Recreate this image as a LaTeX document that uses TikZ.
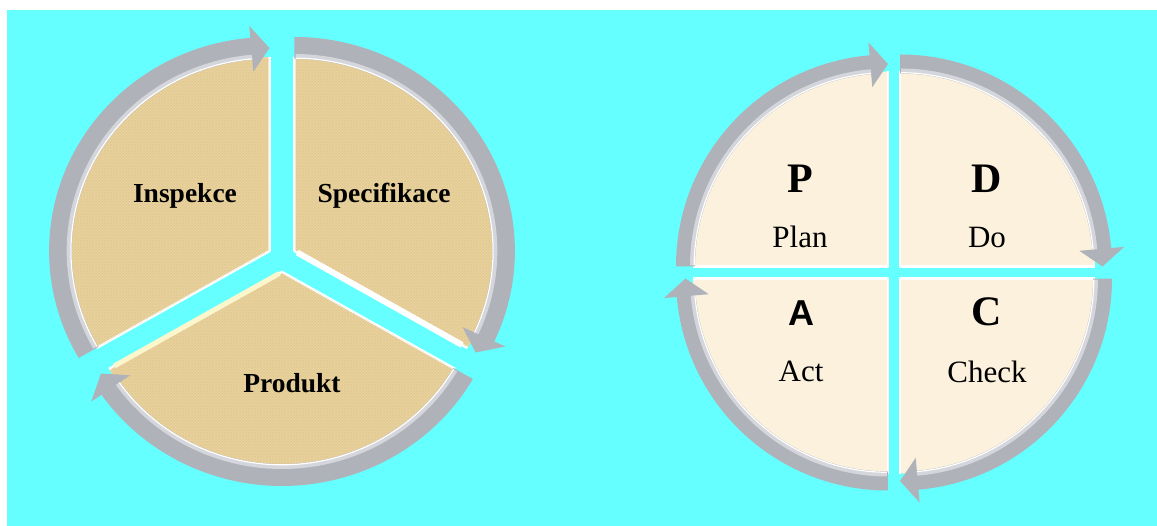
\documentclass[tikz,border=0pt]{standalone}
\usepackage{fontspec}
\setmainfont{Liberation Serif}
\newfontfamily\sansA{Liberation Sans}
\usetikzlibrary{patterns,calc}
\definecolor{bgcyan}{RGB}{102,255,255}
\definecolor{tanfill}{RGB}{234,211,158}
\definecolor{tanline}{RGB}{205,178,120}
\definecolor{tanhigh}{RGB}{252,246,205}
\definecolor{creamfill}{RGB}{251,241,220}
\definecolor{ringgray}{RGB}{176,178,186}
\definecolor{ringlight}{RGB}{212,214,220}

% #1 tail angle, #2 tip angle, #3 inner r, #4 outer r, #5 flare, #6 head angle
\newcommand{\ringarrow}[6]{%
  \fill[ringgray] ({#1}:{#4}) arc[start angle={#1}, end angle={#2+#6}, radius={#4}]
    -- ({#2+#6}:{#4+#5}) -- ({#2}:{(#3+#4)/2}) -- ({#2+#6}:{#3-#5}) -- ({#2+#6}:{#3})
    arc[start angle={#2+#6}, end angle={#1}, radius={#3}] -- cycle;
  \draw[ringlight, line width=4] ({#1-0.3}:{#3+3}) arc[start angle={#1-0.3}, end angle={#2+#6}, radius={#3+3}];
  \draw[white, line width=1.2] ({#1-0.3}:{#3+0.8}) arc[start angle={#1-0.3}, end angle={#2+#6}, radius={#3+0.8}];
}
% #1 start angle, #2 end angle, #3 radius, #4 fill colour
\newcommand{\wedgepiece}[4]{%
  \fill[#4] (0,0) -- ({#1}:{#3}) arc[start angle={#1}, end angle={#2}, radius={#3}] -- cycle;
  \draw[white, line width=2.5, line join=round] ({#1}:{#3}) -- (0,0) -- ({#2}:{#3});
}

\tikzset{
  lbl/.style={font=\bfseries\fontsize{27.5}{30}\selectfont, anchor=base, inner sep=0pt},
  bigletter/.style={font=\bfseries\fontsize{42}{46}\selectfont, anchor=base, inner sep=0pt},
  word/.style={font=\fontsize{31}{34}\selectfont, anchor=base, inner sep=0pt},
}

\begin{document}
\begin{tikzpicture}[x=1pt, y=1pt]
\useasboundingbox (0,0) rectangle (1157,526);
\fill[bgcyan] (7,0) rectangle (1157,516);

% ---------- left: segmented cycle ----------
\begin{scope}[shift={(282,268)}, xscale=1.03]
  \foreach \b/\s/\e in {150/210/90, 30/90/-30, 270/330/210}{
    \begin{scope}[shift={(\b:14)}]
      \wedgepiece{\s}{\e}{194}{tanfill}
      \fill[pattern=crosshatch, pattern color=tanline, opacity=0.22] (0,0) -- (\s:192) arc[start angle=\s, end angle=\e, radius=192] -- cycle;
    \end{scope}
  }
  % bevel highlights on the straight edges
  \begin{scope}[shift={(30:14)}]
    \draw[white, line width=6] (-30:3) -- (-30:188);
  \end{scope}
  \begin{scope}[shift={(270:14)}]
    \draw[tanhigh, line width=5] (210:3) -- (210:188);
  \end{scope}
  \foreach \b/\s/\e in {150/210/90, 30/90/-30, 270/330/210}{
    \begin{scope}[shift={(\b:14)}]
      \ringarrow{\s}{\e}{192}{214}{12}{5}
    \end{scope}
  }
\end{scope}
\node[lbl] (insp) at (185,323) {Inspekce};
\node[lbl] (spec) at (384,323) {Specifikace};
\node[lbl] (prod) at (292,133) {Produkt};

% ---------- right: PDCA ----------
\begin{scope}[shift={(894,253.5)}]
  \foreach \b/\s/\e in {135/180/90, 45/90/0, -45/0/-90, 225/270/180}{
    \begin{scope}[shift={(\b:8.5)}]
      \wedgepiece{\s}{\e}{195}{creamfill}
      \ringarrow{\s}{\e}{193}{212}{13}{5}
    \end{scope}
  }
\end{scope}
\node[bigletter] (p) at (800,333) {P};
\node[word] (plan) at (800,278) {Plan};
\node[bigletter] (d) at (987,333) {D};
\node[word] (do) at (987,278) {Do};
\node[anchor=base, inner sep=0pt, font=\sansA\bfseries\fontsize{36}{40}\selectfont] (a) at (801,200) {A};
\node[word] (act) at (801,144) {Act};
\node[bigletter] (c) at (987,200) {C};
\node[word] (check) at (987,143) {Check};
\end{tikzpicture}
\end{document}
